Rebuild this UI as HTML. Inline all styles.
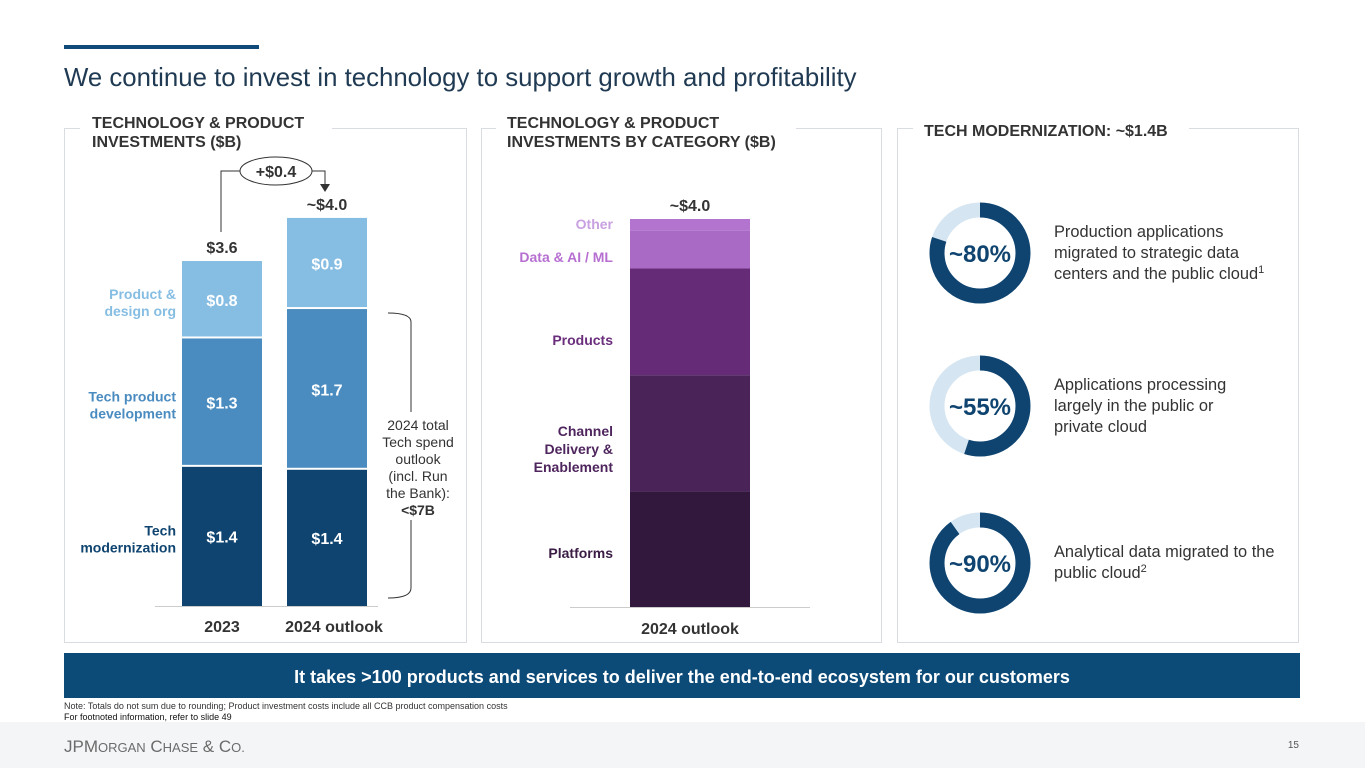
<!DOCTYPE html>
<html><head><meta charset="utf-8"><style>
body{margin:0;width:1365px;height:768px;overflow:hidden;background:#fff;font-family:"Liberation Sans",Arial,sans-serif}
svg text{font-family:"Liberation Sans",Arial,sans-serif}
</style></head><body>
<svg id="s" width="1365" height="768">
<rect x="64" y="45" width="195" height="4" fill="#0f4a78"/>
<text x="64" y="86" font-size="25.8" fill="#1f3a52">We continue to invest in technology to support growth and profitability</text>

<rect x="64.5" y="128.5" width="402" height="514" fill="none" stroke="#d9dde2"/>
<rect x="481.5" y="128.5" width="400" height="514" fill="none" stroke="#d9dde2"/>
<rect x="897.5" y="128.5" width="401" height="514" fill="none" stroke="#d9dde2"/>
<rect x="80" y="110" width="252" height="50" fill="#fff"/>
<rect x="496" y="110" width="300" height="50" fill="#fff"/>
<rect x="913" y="110" width="276" height="30" fill="#fff"/>
<g font-size="16" font-weight="bold" fill="#333">
<text x="92" y="128"><tspan x="92">TECHNOLOGY &amp; PRODUCT</tspan><tspan x="92" dy="19">INVESTMENTS ($B)</tspan></text>
<text x="507" y="128"><tspan x="507">TECHNOLOGY &amp; PRODUCT</tspan><tspan x="507" dy="19">INVESTMENTS BY CATEGORY ($B)</tspan></text>
<text x="924" y="136">TECH MODERNIZATION: ~$1.4B</text>
</g>
<g id="left"></g>
<g id="mid"></g>
<g id="right"></g>

<rect x="64" y="653" width="1236" height="45" fill="#0c4a78"/>
<text x="682" y="683" text-anchor="middle" font-size="18" font-weight="bold" fill="#fff">It takes &gt;100 products and services to deliver the end-to-end ecosystem for our customers</text>
<text x="64" y="709" font-size="9" fill="#333">Note: Totals do not sum due to rounding; Product investment costs include all CCB product compensation costs</text>
<text x="64" y="720" font-size="9" fill="#111">For footnoted information, refer to slide 49</text>
<rect x="0" y="722" width="1365" height="46" fill="#f4f5f7"/>
<text x="64" y="752" font-family="Liberation Serif" font-size="17" fill="#6b6b6b">JPM<tspan font-size="13">ORGAN</tspan> C<tspan font-size="13">HASE</tspan> &amp; C<tspan font-size="13">O.</tspan></text>
<text x="1299" y="748" text-anchor="end" font-size="10" fill="#555">15</text>
</svg>
<script>
const NS="http://www.w3.org/2000/svg";
function mk(p,t,a,txt){const e=document.createElementNS(NS,t);for(const k in a)e.setAttribute(k,a[k]);if(txt!=null)e.textContent=txt;p.appendChild(e);return e;}
// Left chart data
const years=["2023","2024 outlook"];
const segNames=["Tech modernization","Tech product development","Product & design org"];
const vals2023=[1.42,1.31,0.79];
const vals2024=[1.39,1.64,0.93];
const segLabels2023=["$1.4","$1.3","$0.8"];
const segLabels2024=["$1.4","$1.7","$0.9"];
const totals=["$3.6","~$4.0"];
// Middle chart data
const cats=["Platforms","Channel Delivery & Enablement","Products","Data & AI / ML","Other"];
const catVals=[1.19,1.2,1.1,0.39,0.12];
const catTotal="~$4.0";
// Donut data
const donutPct=[80,55,90];
const donutText=["Production applications|migrated to strategic data|centers and the public cloud^1","Applications processing|largely in the public or|private cloud","Analytical data migrated to the|public cloud^2"];

const L=document.getElementById('left');
const base=606, k=98;
const y=v=>base-v*k;
const xs=[182,287], bw=80;
const cols=["#0f4470","#4a8bc0","#86bde3"];
const series=[vals2023,vals2024], labs=[segLabels2023,segLabels2024];
mk(L,'line',{x1:155,y1:606.5,x2:378,y2:606.5,stroke:"#ccc"});
series.forEach((vs,i)=>{
  let c=0;
  vs.forEach((v,j)=>{
    const r=mk(L,'rect',{x:xs[i],y:y(c+v),width:bw,height:v*k-(j>0?2:0),fill:cols[j]});
    
    
    const t=mk(L,'text',{x:xs[i]+bw/2,y:y(c+v/2)+6,'text-anchor':'middle','font-size':16,'font-weight':'bold',fill:'#fff'},labs[i][j]);
    
    
    c+=v;
  });
  const tt=mk(L,'text',{x:xs[i]+bw/2,y:y(c)-8,'text-anchor':'middle','font-size':16,'font-weight':'bold',fill:'#333'},totals[i]);
  
  
  const xl=mk(L,'text',{x:xs[i]+bw/2+(i?7:0),y:632,'text-anchor':'middle','font-size':16,'font-weight':'bold',fill:'#333'},years[i]);
  
  
});
[[["Tech","modernization"],y(vals2023[0]/2)+2,cols[0]],[["Tech product","development"],y(vals2023[0]+vals2023[1]/2)+2,cols[1]],[["Product &","design org"],y(vals2023[0]+vals2023[1]+vals2023[2]/2)+2,cols[2]]].forEach((s,i)=>{
  const t=mk(L,'text',{x:176,y:s[1]-3,'text-anchor':'end','font-size':14,'font-weight':'bold',fill:s[2]});
  
  
  mk(t,'tspan',{x:176},s[0][0]);mk(t,'tspan',{x:176,dy:17},s[0][1]);
});
mk(L,'polyline',{points:"221,232 221,171 240,171",fill:"none",stroke:"#333"});
mk(L,'polyline',{points:"312,171 325,171 325,185",fill:"none",stroke:"#333"});
mk(L,'path',{d:"M320,184 L330,184 L325,192 Z",fill:"#333"});
const el=mk(L,'ellipse',{cx:276,cy:171,rx:36,ry:14,fill:"#fff",stroke:"#333"});


mk(L,'text',{x:276,y:177,'text-anchor':'middle','font-size':16,'font-weight':'bold',fill:'#333'},"+$0.4");
mk(L,'path',{d:"M388,313 Q411,313 411,322 L411,588 Q411,598 388,598",fill:"none",stroke:"#333"});
mk(L,'rect',{x:378,y:412,width:80,height:108,fill:'#fff'});
const bt=mk(L,'text',{x:418,y:430,'text-anchor':'middle','font-size':14,fill:'#333'});


["2024 total","Tech spend","outlook","(incl. Run","the Bank):"].forEach((l,i)=>mk(bt,'tspan',{x:418,dy:i?17:0},l));
mk(bt,'tspan',{x:418,dy:17,'font-weight':'bold'},"<$7B");

// Middle chart
const M=document.getElementById('mid');
const mb=607, mk2=97, mx=630, mw=120;
const my=v=>mb-v*mk2;
const ccols=["#33183e","#4a2358","#652b76","#a96ac6","#b274cf"];
const lcols=["#3a1c44","#4f255e","#6a2e7c","#b66fd1","#c9a0e0"];
mk(M,'line',{x1:570,y1:607.5,x2:810,y2:607.5,stroke:"#ccc"});
let cc=0;
const lblY=[558,440,345,262,229];
catVals.forEach((v,j)=>{
  const r=mk(M,'rect',{x:mx,y:my(cc+v),width:mw,height:v*mk2,fill:ccols[j]});
  
  
  cc+=v;
  const t=mk(M,'text',{x:613,y:lblY[j],'text-anchor':'end','font-size':14,'font-weight':'bold',fill:lcols[j]});
  
  
  if(j==1){["Channel","Delivery &","Enablement"].forEach((l,i)=>mk(t,'tspan',{x:613,dy:i?18:0},l));t.setAttribute('y',436);}
  else t.textContent=cats[j];
});
const mt=mk(M,'text',{x:mx+mw/2,y:my(cc)-8,'text-anchor':'middle','font-size':16,'font-weight':'bold',fill:'#333'},catTotal);


const mxl=mk(M,'text',{x:690,y:634,'text-anchor':'middle','font-size':16,'font-weight':'bold',fill:'#333'},"2024 outlook");



// Donuts
const R=document.getElementById('right');
const cys=[253,406,563], cx=980, rr=43, sw=15;
donutPct.forEach((p,i)=>{
  const g=mk(R,'g',{});
  
  
  mk(g,'circle',{cx:cx,cy:cys[i],r:rr,fill:'none',stroke:'#d5e5f2','stroke-width':sw});
  const C=2*Math.PI*rr;
  mk(g,'circle',{cx:cx,cy:cys[i],r:rr,fill:'none',stroke:'#0f4470','stroke-width':sw,'stroke-dasharray':(C*p/100)+' '+C,transform:`rotate(-90 ${cx} ${cys[i]})`});
  mk(g,'text',{x:cx,y:cys[i]+9,'text-anchor':'middle','font-size':24,'font-weight':'bold',fill:'#0f4470'},'~'+p+'%');
  const lines=donutText[i].split('|');
  const t=mk(R,'text',{x:1054,y:cys[i]-16-(lines.length-3)*10,'font-size':16.4,fill:'#333'});
  
  
  lines.forEach((l,j)=>{
    const ts=mk(t,'tspan',{x:1054,dy:j?21:0});
    const m=l.split('^');ts.textContent=m[0];
    if(m[1])mk(t,'tspan',{'font-size':11,dy:-6},m[1]);
  });
});
</script>
</body></html>
